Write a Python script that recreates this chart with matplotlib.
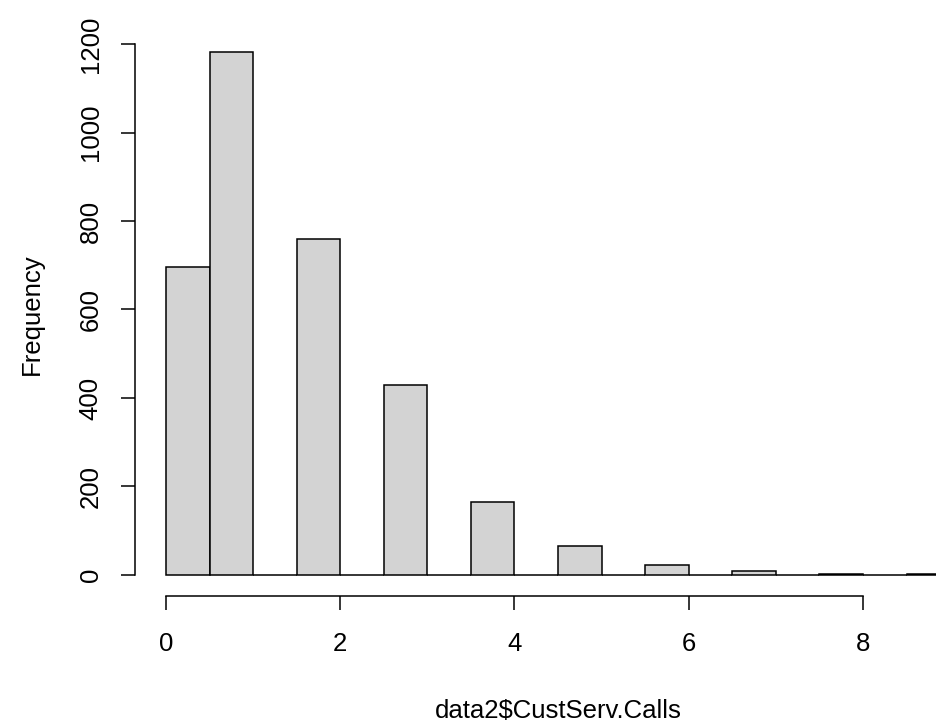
import matplotlib
matplotlib.use("Agg")
import matplotlib.pyplot as plt
import numpy as np

# histogram of customer service calls (bins of width 0.5, R style)
bin_edges = np.arange(0, 9.5, 0.5)
counts = [697, 1181, 0, 759, 0, 429, 0, 166, 0, 66, 0, 22, 0, 9, 0, 2, 0, 2]
x_ticks = [0, 2, 4, 6, 8]
y_ticks = [0, 200, 400, 600, 800, 1000, 1200]
x_label = "data2$CustServ.Calls"
y_label = "Frequency"

plt.rcParams['font.family'] = ['Liberation Sans', 'DejaVu Sans']
fs = 18.5

fig = plt.figure(figsize=(9.36, 7.27), dpi=100)
ax = fig.add_axes([0.1438, 0.1799, 0.9048, 0.7766])

ax.bar(bin_edges[:-1], counts, width=0.5, align='edge',
       facecolor='#D3D3D3', edgecolor='black', linewidth=1.1)

# R "usr" ranges (4% padding)
ax.set_xlim(-0.36, 9.36)
ax.set_ylim(-48, 1228)

for side in ['top', 'right']:
    ax.spines[side].set_visible(False)
ax.spines['left'].set_bounds(0, 1200)
ax.spines['bottom'].set_bounds(0, 8)
for side in ['left', 'bottom']:
    ax.spines[side].set_linewidth(1.1)

ax.set_xticks(x_ticks, [str(t) for t in x_ticks], fontsize=fs)
ax.set_yticks(y_ticks, [str(t) for t in y_ticks], fontsize=fs, rotation=90, va='center')
ax.tick_params(axis='x', length=10.4, width=1.1, pad=15.5)
ax.tick_params(axis='y', length=10.4, width=1.1, pad=12.5)

ax.set_xlabel(x_label, fontsize=fs, va='center')
ax.xaxis.set_label_coords(0.5, -0.2040)
ax.set_ylabel(y_label, fontsize=fs, va='center')
ax.yaxis.set_label_coords(-0.1211, 0.5)

fig.savefig("out.png", dpi=100)
